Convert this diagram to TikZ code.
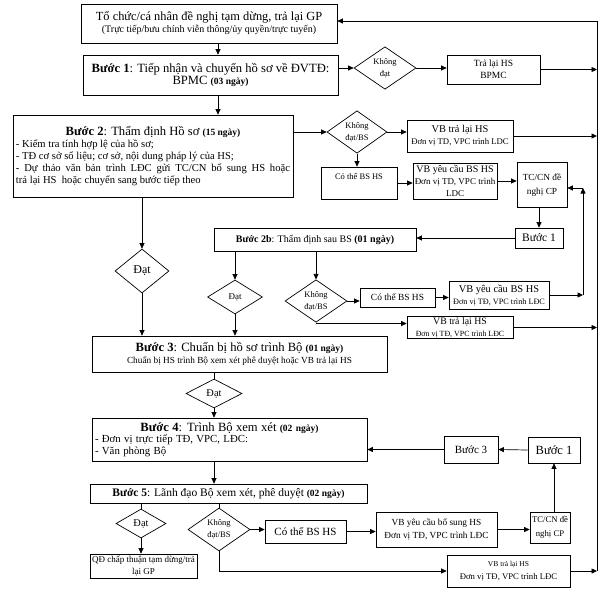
\documentclass[tikz,border=0pt]{standalone}
\usepackage{fontspec}
\setmainfont{Liberation Serif}
\usetikzlibrary{shapes.geometric,arrows.meta}

% font sizes used in the chart
\newcommand\hdf{\fontsize{12.6}{14.5}\selectfont}
\newcommand\dayf{\fontsize{9.5}{11}\bfseries\selectfont}
\newcommand\fz[1]{\fontsize{#1}{#1}\selectfont}

\begin{document}
\begin{tikzpicture}[x=1pt,y=-1pt,
  box/.style={draw, line width=0.7pt, inner sep=1pt, align=center},
  dia/.style={draw, diamond, line width=0.7pt, inner sep=0pt, align=center},
  arr/.style={line width=0.7pt, -{Triangle[length=5.5pt,width=5pt]}},
  ln/.style={line width=0.7pt}]
\useasboundingbox (0,0) rectangle (602,597);

% main column
\node[box, minimum width=256pt, minimum height=39pt] (top) at (209,23.5)
  {{\fontsize{12.4}{15}\selectfont Tổ chức/cá nhân đề nghị tạm dừng, trả lại GP}\\
   {\fz{10}(Trực tiếp/bưu chính viễn thông/ủy quyền/trực tuyến)}};
\node[box, minimum width=255pt, minimum height=40pt] (b1) at (210.5,75)
  {{\hdf\textbf{Bước 1}: Tiếp nhận và chuyển hồ sơ về ĐVTĐ:}\\
   {\hdf BPMC {\dayf(03 ngày)}}};
\node[box, minimum width=280pt, minimum height=82pt, text width=274pt, align=justify] (b2) at (153,156)
  {\centerline{\hdf\textbf{Bước 2}: Thẩm định Hồ sơ {\dayf(15 ngày)}}
   \fontsize{10.6}{12.2}\selectfont
   - Kiểm tra tính hợp lệ của hồ sơ;\par
   - TĐ cơ sở số liệu; cơ sở, nội dung pháp lý của HS;\par
   - Dự thảo văn bản trình LĐC gửi TC/CN bổ sung HS hoặc\linebreak
   trả lại HS\ \ hoặc chuyển sang bước tiếp theo\par};
\node[box, minimum width=202pt, minimum height=23pt] (b2b) at (315,239.5)
  {\fz{10}\textbf{Bước 2b}: Thẩm định sau BS \textbf{(01 ngày)}};
\node[box, minimum width=295pt, minimum height=36pt] (b3) at (239.5,354)
  {{\hdf\textbf{Bước 3}: Chuẩn bị hồ sơ trình Bộ {\dayf(01 ngày)}}\\
   {\fz{9.3}Chuẩn bị HS trình Bộ xem xét phê duyệt hoặc VB trả lại HS}};
\node[box, minimum width=275pt, minimum height=43pt, text width=269pt, align=left] (b4) at (229.5,439.5)
  {\centerline{\hdf\textbf{Bước 4}: Trình Bộ xem xét {\dayf(02 ngày)}}
   \fontsize{10.8}{11.5}\selectfont
   - Đơn vị trực tiếp TĐ, VPC, LĐC:\par
   - Văn phòng Bộ\par};
\node[box, minimum width=277pt, minimum height=19pt] (b5) at (228.5,493.5)
  {\fz{11.5}\textbf{Bước 5}: Lãnh đạo Bộ xem xét, phê duyệt {\dayf(02 ngày)}};
\node[box, minimum width=107pt, minimum height=24pt] (qd) at (143.5,566)
  {{\fz{9}QĐ chấp thuận tạm dừng/trả}\\{\fz{9}lại GP}};

% decisions
\node[dia, minimum width=62pt, minimum height=30pt] (kd1) at (385,68)
  {{\fz{8.5}Không}\\{\fz{8.5}đạt}};
\node[dia, minimum width=60pt, minimum height=32pt] (kd2) at (357,132)
  {{\fz{8.5}Không}\\{\fz{8.5}đạt/BS}};
\node[dia, minimum width=54pt, minimum height=44pt] (dat2) at (142,271)
  {\fz{12}Đạt};
\node[dia, minimum width=55pt, minimum height=34pt] (dat2b) at (235,297)
  {\fz{9}Đạt};
\node[dia, minimum width=62pt, minimum height=42pt] (kd2b) at (316,301)
  {{\fz{8.5}Không}\\{\fz{8.5}đạt/BS}};
\node[dia, minimum width=56pt, minimum height=29pt] (dat3) at (214,393.5)
  {\fz{10.4}Đạt};
\node[dia, minimum width=50pt, minimum height=29pt] (dat5) at (141,523.5)
  {\fz{10.4}Đạt};
\node[dia, minimum width=62pt, minimum height=43pt] (kd5) at (219,529.5)
  {{\fz{8.5}Không}\\{\fz{8.5}đạt/BS}};

% side boxes
\node[box, minimum width=93pt, minimum height=29pt] (tl1) at (493.5,69.5)
  {{\fz{9.5}Trả lại HS}\\{\fz{9.5}BPMC}};
\node[box, minimum width=106pt, minimum height=32pt] (tl2) at (460,136)
  {{\fz{10.4}VB trả lại HS}\\{\fz{8.7}Đơn vị TD, VPC trình LDC}};
\node[box, minimum width=76pt, minimum height=32pt, text depth=14pt] (bs2) at (359,183)
  {\fz{8.5}Có thể BS HS};
\node[box, minimum width=84pt, minimum height=36pt] (yc2) at (455,181)
  {{\fz{10}VB yêu cầu BS HS}\\{\fz{9}Đơn vị TD, VPC trình}\\{\fz{9}LDC}};
\node[box, minimum width=50pt, minimum height=45pt] (tc2) at (542,185)
  {{\fz{9.3}TC/CN đề}\\[2pt]{\fz{9.3}nghị CP}};
\node[box, minimum width=48pt, minimum height=20pt] (s1a) at (539,238)
  {\fz{11.5}Bước 1};
\node[box, minimum width=75pt, minimum height=19pt] (bs2b) at (397.5,297.5)
  {\fz{9.4}Có thể BS HS};
\node[box, minimum width=100pt, minimum height=28pt] (yc2b) at (499,295)
  {{\fz{10.4}VB yêu cầu BS HS}\\{\fz{8.2}Đơn vị TĐ, VPC trình LĐC}};
\node[box, minimum width=106pt, minimum height=21pt] (tl2b) at (460,327.5)
  {{\fz{9.8}VB trả lại HS}\\{\fz{7.9}Đơn vị TĐ, VPC trình LĐC}};
\node[box, minimum width=54pt, minimum height=27pt] (s3) at (471,449.5)
  {\fz{11}Bước 3};
\node[box, minimum width=52pt, minimum height=26pt] (s1b) at (554,450)
  {\fz{12.5}Bước 1};
\node[box, minimum width=81pt, minimum height=23pt] (bs5) at (305.5,531.5)
  {\fz{11}Có thể BS HS};
\node[box, minimum width=121pt, minimum height=35pt] (yc5) at (436.5,529.5)
  {{\fz{9.3}VB yêu cầu bổ sung HS}\\[1pt]{\fz{9.3}Đơn vị TĐ, VPC trình LĐC}};
\node[box, minimum width=40pt, minimum height=31pt] (tc5) at (550,527.5)
  {{\fz{8.7}TC/CN đề}\\[2pt]{\fz{8.7}nghị CP}};
\node[box, minimum width=123pt, minimum height=32pt] (tl5) at (508.5,571)
  {{\fz{7.5}VB trả lại HS}\\[1pt]{\fz{8.7}Đơn vị TĐ, VPC trình LĐC}};

% return line on the right
\coordinate (rtop) at (597,21);
\coordinate (rbot) at (597,571);
\coordinate (lp) at (583,188);
\draw[arr] (rbot) -- (rtop) -- (rtop -| top.east);

% step 1
\draw[arr] ([xshift=9pt]top.south) -- ([xshift=9pt]top.south |- b1.north);
\draw[arr] ([xshift=7.5pt]b1.south) -- ([xshift=7.5pt]b1.south |- b2.north);
\draw[arr] (kd1.west -| b1.east) -- (kd1.west);
\draw[arr] (kd1.east) -- (kd1.east -| tl1.west);
\draw[arr] (tl1.east) -- (tl1.east -| rtop);

% step 2
\draw[arr] (kd2.west -| b2.east) -- (kd2.west);
\draw[arr] (kd2.east) -- (kd2.east -| tl2.west);
\draw[arr] (tl2.east) -- (tl2.east -| rtop);
\draw[arr] (kd2.south) -- (kd2.south |- bs2.north);
\draw[arr] (bs2.east) -- (bs2.east -| yc2.west);
\draw[arr] (yc2.east) -- (yc2.east -| tc2.west);
\draw[arr] (s1a.north |- tc2.south) -- (s1a.north);
\draw[arr] (s1a.west) -- (s1a.west -| b2b.east);
\draw[arr] (dat2.north |- b2.south) -- (dat2.north);
\draw[arr] (dat2.south) -- (dat2.south |- b3.north);

% step 2b
\draw[arr] (dat2b.north |- b2b.south) -- (dat2b.north);
\draw[arr] (dat2b.south) -- (dat2b.south |- b3.north);
\draw[arr] (kd2b.north |- b2b.south) -- (kd2b.north);
\draw[arr] (kd2b.east) -- (kd2b.east -| bs2b.west);
\draw[arr] (bs2b.east) -- (bs2b.east -| yc2b.west);
\draw[arr] (yc2b.east) -- (yc2b.east -| lp);
\draw[arr] (yc2b.east -| lp) -- (lp);
\draw[arr] (lp) -- (lp -| tc2.east);
\draw[arr] (kd2b.south) |- ([yshift=4pt]tl2b.west);
\draw[arr] (tl2b.east) -- (tl2b.east -| rtop);

% steps 3 and 4
\draw[ln] (dat3.north |- b3.south) -- (dat3.north);
\draw[arr] (dat3.south) -- (dat3.south |- b4.north);
\draw[arr] (s3.west) -- (s3.west -| b4.east);
\draw[arr] (s1b.west) -- (s3.east);
\draw[arr] (dat3.south |- b4.south) -- (dat3.south |- b5.north);

% step 5
\draw[ln] (dat5.north |- b5.south) -- (dat5.north);
\draw[arr] (dat5.south) -- (dat5.south |- qd.north);
\draw[ln] (kd5.north |- b5.south) -- (kd5.north);
\draw[arr] (kd5.east) -- (kd5.east -| bs5.west);
\draw[arr] (bs5.east) -- (bs5.east -| yc5.west);
\draw[arr] (yc5.east) -- (yc5.east -| tc5.west);
\draw[arr] (s1b.south |- tc5.north) -- (s1b.south);
\draw[arr] (kd5.south) |- (tl5.west);
\draw[arr] (tl5.east) -- (tl5.east -| rtop);
\end{tikzpicture}
\end{document}
